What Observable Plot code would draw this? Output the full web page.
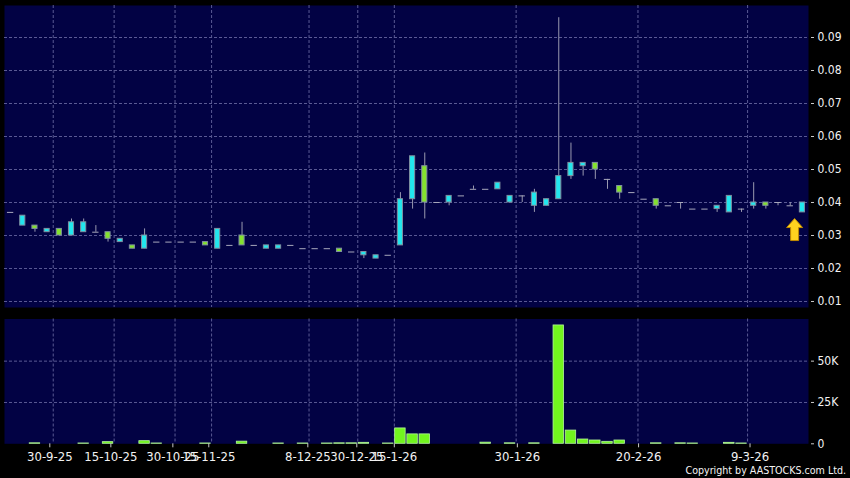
<!DOCTYPE html>
<html><head><meta charset="utf-8">
<script src="https://cdn.jsdelivr.net/npm/d3@7"></script>
<script src="https://cdn.jsdelivr.net/npm/@observablehq/plot@0.6"></script>
<style>
html,body{margin:0;padding:0;background:#000;width:850px;height:478px;overflow:hidden;}
#chart{position:relative;width:850px;height:478px;}
#chart svg{display:block;}
#copy{position:absolute;right:4px;top:464px;font:10.6px "DejaVu Sans Condensed","DejaVu Sans",sans-serif;line-height:12px;color:#f4f4f4;white-space:nowrap;}
</style></head><body><div id="chart"><div id="copy">Copyright by AASTOCKS.com Ltd.</div></div>
<script>
// ---- data (one entry per trading session, left to right) ----
const openP  = [.037,.033,.033,.031,.032,.030,.031,.031,.031,.028,.027,.026,.028,.028,.028,.028,.028,.026,.027,.030,.027,.026,.026,.027,.026,.026,.026,.026,.025,.024,.023,.024,.027,.041,.051,.040,.040,.042,.044,.044,.044,.040,.042,.039,.039,.041,.048,.051,.052,.047,.045,.043,.041,.041,.039,.040,.038,.038,.038,.037,.038,.039,.040,.040,.039,.037];
const closeP = [.037,.036,.032,.032,.030,.034,.034,.031,.029,.029,.026,.030,.028,.028,.028,.028,.027,.032,.027,.027,.027,.027,.027,.027,.026,.026,.026,.025,.025,.025,.024,.024,.041,.054,.040,.040,.042,.042,.044,.044,.046,.042,.042,.043,.041,.048,.052,.052,.050,.047,.043,.043,.041,.039,.039,.040,.038,.038,.039,.042,.038,.040,.039,.040,.039,.040];
const highP  = [.037,.036,.033,.032,.032,.035,.035,.033,.031,.029,.027,.032,.028,.028,.028,.028,.028,.032,.027,.034,.027,.027,.027,.027,.026,.026,.026,.026,.025,.025,.024,.024,.043,.054,.055,.040,.042,.042,.045,.044,.046,.042,.042,.044,.041,.096,.058,.052,.052,.047,.045,.043,.041,.041,.039,.040,.038,.038,.039,.042,.038,.046,.040,.040,.040,.040];
const lowP   = [.037,.033,.031,.031,.030,.030,.031,.031,.028,.028,.026,.026,.028,.028,.028,.028,.027,.026,.027,.027,.027,.026,.026,.027,.026,.026,.026,.025,.025,.023,.023,.024,.027,.038,.035,.040,.039,.042,.044,.044,.044,.040,.040,.037,.039,.041,.047,.048,.047,.044,.041,.043,.041,.038,.039,.038,.038,.038,.037,.037,.037,.038,.038,.039,.039,.037];
const volume = [0,0,300,0,0,0,200,0,1000,0,0,1600,200,0,0,0,200,0,0,1300,0,0,200,0,200,0,200,300,300,600,0,200,9300,5700,5700,0,0,0,0,700,0,300,0,300,0,71600,8000,2600,2000,1200,2000,0,0,300,0,300,200,0,0,600,200,0,0,0,0,0];

const dateLabels = ["30-9-25","15-10-25","30-10-25","15-11-25","8-12-25","30-12-25","15-1-26","30-1-26","20-2-26","9-3-26"];
const dateTickPos = [3.22,8.23,13.32,16.27,24.4,28.42,31.5,41.6,51.55,60.7];
const dateGridPos = [3.5,8.5,13.5,16.5,24.5,28.5,31.5,41.5,51.5,60.5];
const priceTicks = [0.01,0.02,0.03,0.04,0.05,0.06,0.07,0.08,0.09];
const volumeTicks = [0,25000,50000];
const marker = [{i: 64.36, price: 0.0318}];

// ---- build table ----
const candles = openP.map((o, i) => ({i, open: o, close: closeP[i], high: highP[i], low: lowP[i], vol: volume[i]}));
const bodies = candles.filter(d => d.open !== d.close);
const flats = candles.filter(d => d.open === d.close);
const vols = candles.filter(d => d.vol > 0);

const NAVY = "#020244";
const GRID = "#5a5a94";
const font = "'DejaVu Sans Condensed','DejaVu Sans',sans-serif";
const xDomain = [-0.5, 65.5];
const BODY = 0.21, BAR = 0.43;

const arrowSymbol = {
  draw(ctx) {
    ctx.moveTo(0, -11);
    ctx.lineTo(8, -2);
    ctx.lineTo(4, -2);
    ctx.lineTo(4, 11);
    ctx.lineTo(-4, 11);
    ctx.lineTo(-4, -2);
    ctx.lineTo(-8, -2);
    ctx.closePath();
  }
};

const priceChart = Plot.plot({
  width: 850, height: 312,
  marginTop: 5, marginBottom: 5, marginLeft: 4, marginRight: 42,
  style: {background: "transparent", color: "#f0f0f0", fontFamily: font, fontSize: "11px"},
  x: {domain: xDomain, axis: null},
  y: {domain: [0.00818, 0.0997], axis: null},
  marks: [
    Plot.frame({fill: NAVY, stroke: null}),
    Plot.gridY(priceTicks, {stroke: GRID, strokeOpacity: 1, strokeDasharray: "3,2"}),
    Plot.gridX(dateGridPos, {stroke: GRID, strokeOpacity: 1, strokeDasharray: "3,2"}),
    Plot.ruleX(candles, {x: "i", y1: "low", y2: "high", stroke: "#9a9ab0", strokeWidth: 1}),
    Plot.ruleY(flats, {x1: d => d.i - 0.26, x2: d => d.i + 0.26, y: "close", stroke: "#a8a8bc", strokeWidth: 1}),
    Plot.rect(bodies, {
      x1: d => d.i - BODY, x2: d => d.i + BODY, y1: "open", y2: "close",
      fill: d => d.close > d.open ? "#22e6ee" : "#84e22e",
      stroke: "#7f8fa0", strokeWidth: 1
    }),
    Plot.dot(marker, {x: "i", y: "price", symbol: arrowSymbol, fill: "#ffd21f", stroke: "#c08a00", strokeWidth: 1}),
    Plot.axisY(priceTicks, {anchor: "right", label: null, tickSize: 3, dx: 2, tickPadding: 4, tickFormat: d3.format(".2f"), stroke: "#c8c8c8", fill: "#f2f2f2", fontSize: 12})
  ]
});

const volChart = Plot.plot({
  width: 850, height: 166,
  marginTop: 6.5, marginBottom: 34.7, marginLeft: 4, marginRight: 42,
  style: {background: "transparent", color: "#f0f0f0", fontFamily: font, fontSize: "12px"},
  x: {domain: xDomain, axis: null},
  y: {domain: [0, 75500], axis: null},
  marks: [
    Plot.frame({fill: NAVY, stroke: null}),
    Plot.gridY([25000, 50000], {stroke: GRID, strokeOpacity: 1, strokeDasharray: "3,2"}),
    Plot.gridX(dateGridPos, {stroke: GRID, strokeOpacity: 1, strokeDasharray: "3,2"}),
    Plot.rect(vols, {x1: d => d.i - BAR, x2: d => d.i + BAR, y1: 0, y2: "vol", fill: "#72f51e", stroke: "#b4f59a", strokeWidth: 0.8}),
    Plot.axisY(volumeTicks, {anchor: "right", label: null, tickSize: 3, dx: 2, tickPadding: 4, tickFormat: d => d === 0 ? "0" : (d / 1000) + "K", stroke: "#c8c8c8", fill: "#f2f2f2", fontSize: 12}),
    Plot.axisX(dateTickPos, {anchor: "bottom", label: null, tickSize: 4, tickPadding: 4, tickFormat: d => dateLabels[dateTickPos.indexOf(d)], stroke: "#c8c8c8", fill: "#f2f2f2", fontSize: 13})
  ]
});

const chart = document.getElementById("chart");
chart.insertBefore(volChart, chart.firstChild);
chart.insertBefore(priceChart, chart.firstChild);
</script></body></html>
